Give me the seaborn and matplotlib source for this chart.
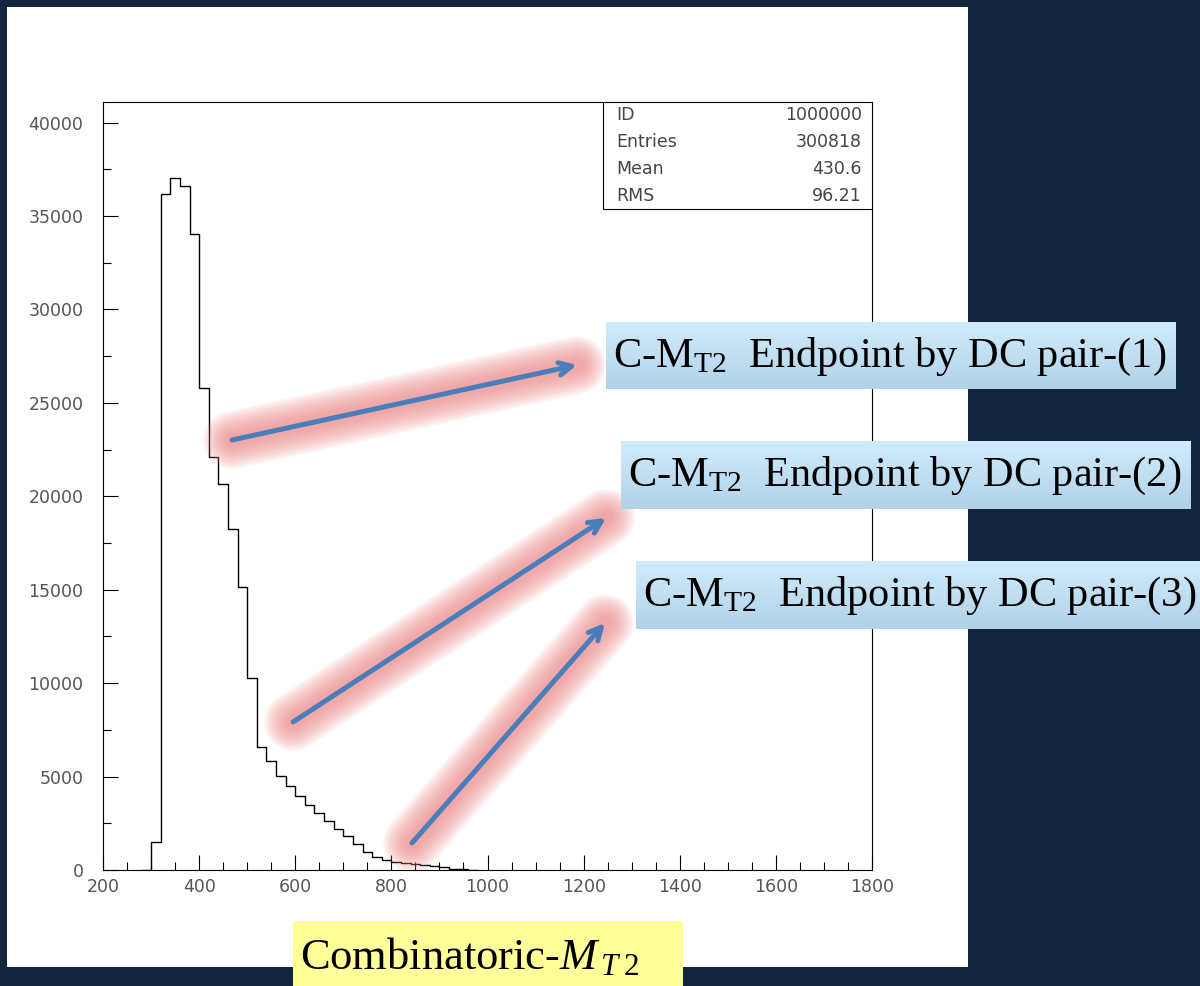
import numpy as np
import pandas as pd
import matplotlib
matplotlib.use('Agg')
import matplotlib.pyplot as plt
import seaborn as sns
from matplotlib.patches import Rectangle
from matplotlib.colors import LinearSegmentedColormap
from matplotlib.ticker import MultipleLocator

# histogram contents (20 GeV bins from 280, empty at both ends)
bin_start = 280
bin_width = 20
counts = [0, 1500, 36150, 37020, 36580, 34010, 25780, 22120, 20660, 18270, 15150,
          10250, 6600, 5810, 5040, 4470, 3970, 3475, 3030, 2640, 2190,
          1830, 1390, 950, 700, 550, 420, 350, 300, 250, 200,
          150, 50, 40, 0]

stat_names = ['ID', 'Entries', 'Mean', 'RMS']
stat_values = ['1000000', '300818', '430.6', '96.21']

arrow_labels = ['(1)', '(2)', '(3)']

centres = bin_start + bin_width * (np.arange(len(counts)) + 0.5)
df = pd.DataFrame({'mt2': centres, 'n': counts})

sns.set_style('ticks')
plt.rcParams['font.family'] = ['DejaVu Sans']
plt.rcParams['mathtext.fontset'] = 'custom'
plt.rcParams['mathtext.rm'] = 'Liberation Serif'
plt.rcParams['mathtext.it'] = 'Liberation Serif:italic'

navy = '#12253f'
fig = plt.figure(figsize=(12, 9.86), dpi=100, facecolor=navy)
W, H = 1200, 986

# white slide panel
fig.patches.append(Rectangle((7 / W, 1 - 967 / H), 961 / W, 960 / H,
                             transform=fig.transFigure, facecolor='white',
                             edgecolor='none', zorder=-10))

ax = fig.add_axes([103 / W, 1 - 870 / H, 769 / W, 768 / H])
sns.histplot(data=df, x='mt2', weights='n', binwidth=bin_width,
             binrange=(bin_start, bin_start + bin_width * len(counts)),
             element='step', fill=False, color='black', linewidth=1.0, ax=ax)
ax.set_xlim(200, 1800)
ax.set_ylim(0, 41100)
ax.set_xlabel('')
ax.set_ylabel('')
ax.set_facecolor('white')
for s in ax.spines.values():
    s.set_color('black')
    s.set_linewidth(0.8)
ax.xaxis.set_major_locator(MultipleLocator(200))
ax.xaxis.set_minor_locator(MultipleLocator(50))
ax.yaxis.set_major_locator(MultipleLocator(5000))
ax.yaxis.set_minor_locator(MultipleLocator(2500))
ax.tick_params(which='both', direction='in', colors='black', labelcolor='#555555',
               labelsize=12.5, width=0.8)
ax.tick_params(which='major', length=11)
ax.tick_params(which='minor', length=6)
ax.tick_params(axis='y', pad=14)
ax.tick_params(axis='x', pad=6)

# stats box in the top right corner
x0 = (603 - 103) / 769
y0 = (870 - 209) / 768
ax.add_patch(Rectangle((x0, y0), 1 - x0, 1 - y0, transform=ax.transAxes,
                       facecolor='white', edgecolor='black', linewidth=0.8, zorder=5))
for i, (name, val) in enumerate(zip(stat_names, stat_values)):
    yy = 1 - (13 + 27 * i) / 768
    ax.text((616 - 103) / 769, yy, name, transform=ax.transAxes, ha='left', va='center',
            color='#444444', fontsize=12.5, zorder=6)
    ax.text((862 - 103) / 769, yy, val, transform=ax.transAxes, ha='right', va='center',
            color='#444444', fontsize=12.5, zorder=6)

# overlay in pixel coordinates for the slide decorations
ov = fig.add_axes([0, 0, 1, 1])
ov.patch.set_alpha(0)
ov.axis('off')

blue = '#4a7ebb'
pink = '#f08c8c'
arrows = [((232, 440), (577, 365)), ((293, 722), (606, 518)), ((412, 843), (605, 623))]
for (tx, ty), (hx, hy) in arrows:
    # soft glow behind the arrow
    for lw in np.arange(42, 6, -2):
        ov.plot([tx, hx], [ty, hy], color=pink, lw=lw, alpha=0.065,
                solid_capstyle='round', zorder=3)
    ov.annotate('', xy=(hx, hy), xytext=(tx, ty),
                arrowprops=dict(arrowstyle='->,head_length=0.9,head_width=0.45',
                                color=blue, lw=3.6, shrinkA=0, shrinkB=0), zorder=4)

grad = LinearSegmentedColormap.from_list('boxgrad', ['#d0ecfc', '#b2d2e8'])
gvals = np.linspace(0, 1, 64).reshape(-1, 1)
boxes = [(606, 1176, 322, 389), (621, 1191, 441, 509), (636, 1200, 561, 629)]
for (bx0, bx1, by0, by1), lab in zip(boxes, arrow_labels):
    ov.imshow(gvals, cmap=grad, aspect='auto', extent=[bx0, bx1, by1, by0],
              origin='upper', zorder=5)
    ov.text(bx0 + 7, (by0 + by1) / 2 + 1,
            r'C-M$_{\mathrm{T2}}$  Endpoint by DC pair-' + lab,
            family='Liberation Serif', fontsize=30.5, ha='left', va='center',
            color='black', zorder=6)

ov.add_patch(Rectangle((293, 921), 390, 66, facecolor='#ffff99', edgecolor='none',
                       zorder=5))
ov.text(300, 957, r'Combinatoric-$M_{\,T\;2}$', family='Liberation Serif',
        fontsize=32, ha='left', va='center', color='black', zorder=6)

ov.set_xlim(0, W)
ov.set_ylim(H, 0)

fig.savefig('out.png', dpi=100, facecolor=navy)
